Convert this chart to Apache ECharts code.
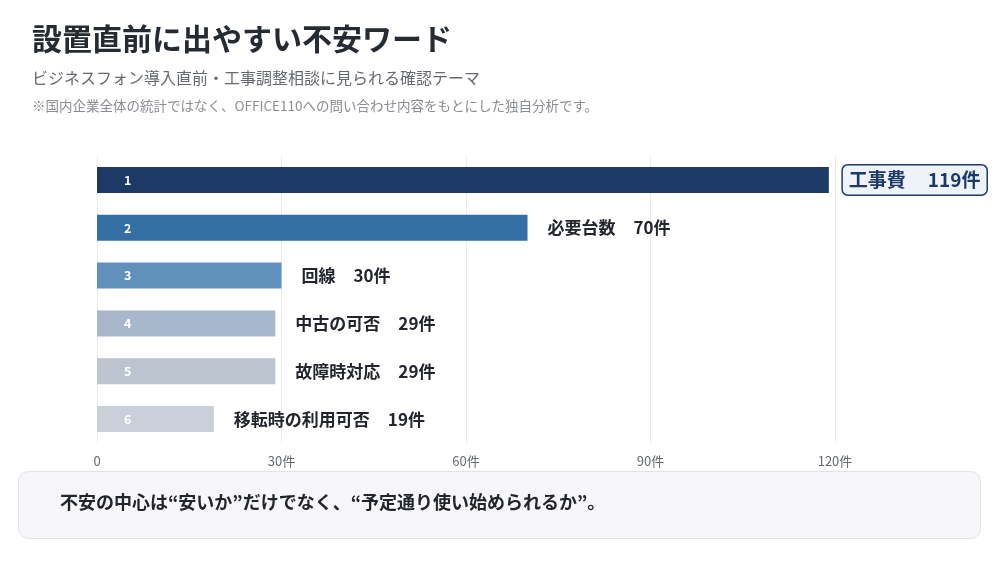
<!DOCTYPE html>
<html>
<head>
<meta charset="utf-8">
<script src="https://cdn.jsdelivr.net/npm/echarts@6/dist/echarts.min.js"></script>
<style>
  html, body { margin: 0; padding: 0; background: #fff; }
  #chart { width: 1000px; height: 564px; }
</style>
</head>
<body>
<div id="chart"></div>
<script>
const categories = ["工事費", "必要台数", "回線", "中古の可否", "故障時対応", "移転時の利用可否"];
const counts = [119, 70, 30, 29, 29, 19];
const ranks = ["1", "2", "3", "4", "5", "6"];
const barColors = ["#1d3a66", "#336fa3", "#6190bd", "#a8b7cb", "#bcc4cf", "#cad0da"];
const tickValues = [0, 30, 60, 90, 120];

const FONT = '"Noto Sans CJK JP", "Noto Sans", sans-serif';

const chart = echarts.init(document.getElementById("chart"));

const option = {
  backgroundColor: "#ffffff",
  textStyle: { fontFamily: FONT },
  title: [
    {
      text: "設置直前に出やすい不安ワード",
      left: 32,
      top: 24,
      padding: 0,
      textStyle: { fontSize: 30, fontWeight: "bold", color: "#252a33", fontFamily: FONT },
    },
    {
      text: "ビジネスフォン導入直前・工事調整相談に見られる確認テーマ",
      left: 32,
      top: 70,
      padding: 0,
      textStyle: { fontSize: 16, fontWeight: "normal", color: "#666a70", fontFamily: FONT },
    },
    {
      text: "※国内企業全体の統計ではなく、OFFICE110への問い合わせ内容をもとにした独自分析です。",
      left: 32,
      top: 99,
      padding: 0,
      textStyle: { fontSize: 13.5, fontWeight: "normal", color: "#8a8d92", fontFamily: FONT },
    },
  ],
  graphic: [
    {
      type: "rect",
      left: 18,
      top: 471,
      shape: { width: 962, height: 67, r: 10 },
      style: { fill: "#f7f7fa", stroke: "#e2e3e8", lineWidth: 1 },
      z: 0,
    },
    {
      type: "text",
      left: 60,
      top: 493,
      style: {
        text: "不安の中心は“安いか”だけでなく、“予定通り使い始められるか”。",
        font: 'bold 18px "Noto Sans CJK JP", sans-serif',
        fill: "#22252b",
      },
      z: 1,
    },
  ],
  grid: { left: 97, right: 165, top: 156, bottom: 121, containLabel: false },
  xAxis: {
    type: "value",
    min: 0,
    max: 120,
    interval: 30,
    axisLine: { show: false },
    axisTick: { show: false },
    splitLine: { lineStyle: { color: "#ebebef", width: 1 } },
    axisLabel: {
      color: "#666a70",
      fontSize: 13,
      margin: 12,
      formatter: (v) => (tickValues.includes(v) && v !== 0 ? v + "件" : String(v)),
    },
  },
  yAxis: {
    type: "category",
    data: categories,
    inverse: true,
    axisLine: { show: false },
    axisTick: { show: false },
    axisLabel: { show: false },
  },
  series: [
    {
      type: "bar",
      barWidth: 26,
      data: counts.map((v, i) => ({ value: v, itemStyle: { color: barColors[i] } })),
      label: {
        show: true,
        position: "insideLeft",
        distance: 27,
        color: "#ffffff",
        fontSize: 12.5,
        fontWeight: "bold",
        formatter: (p) => ranks[p.dataIndex],
      },
      z: 2,
    },
    {
      type: "bar",
      barWidth: 26,
      barGap: "-100%",
      silent: true,
      itemStyle: { color: "rgba(0,0,0,0)" },
      data: counts.map((v, i) => {
        const item = { value: v };
        if (i === 0) {
          item.label = {
            distance: 14,
            color: "#1d3a66",
            backgroundColor: "#eef3fa",
            borderColor: "#1d3a66",
            borderWidth: 1.5,
            borderRadius: 5,
            padding: [5, 6, 5, 6],
            rich: {
              n: { fontSize: 19, fontWeight: "bold", color: "#1d3a66" },
              v: { fontSize: 19, fontWeight: "bold", color: "#1d3a66", padding: [0, 0, 0, 22] },
            },
          };
        }
        return item;
      }),
      label: {
        show: true,
        position: "right",
        distance: 20,
        color: "#22252b",
        fontSize: 17,
        fontWeight: "bold",
        formatter: (p) => "{n|" + categories[p.dataIndex] + "}{v|" + counts[p.dataIndex] + "件}",
        rich: {
          n: { fontSize: 17, fontWeight: "bold" },
          v: { fontSize: 17, fontWeight: "bold", padding: [0, 0, 0, 18] },
        },
      },
      z: 3,
    },
  ],
};

chart.setOption(option);
</script>
</body>
</html>
